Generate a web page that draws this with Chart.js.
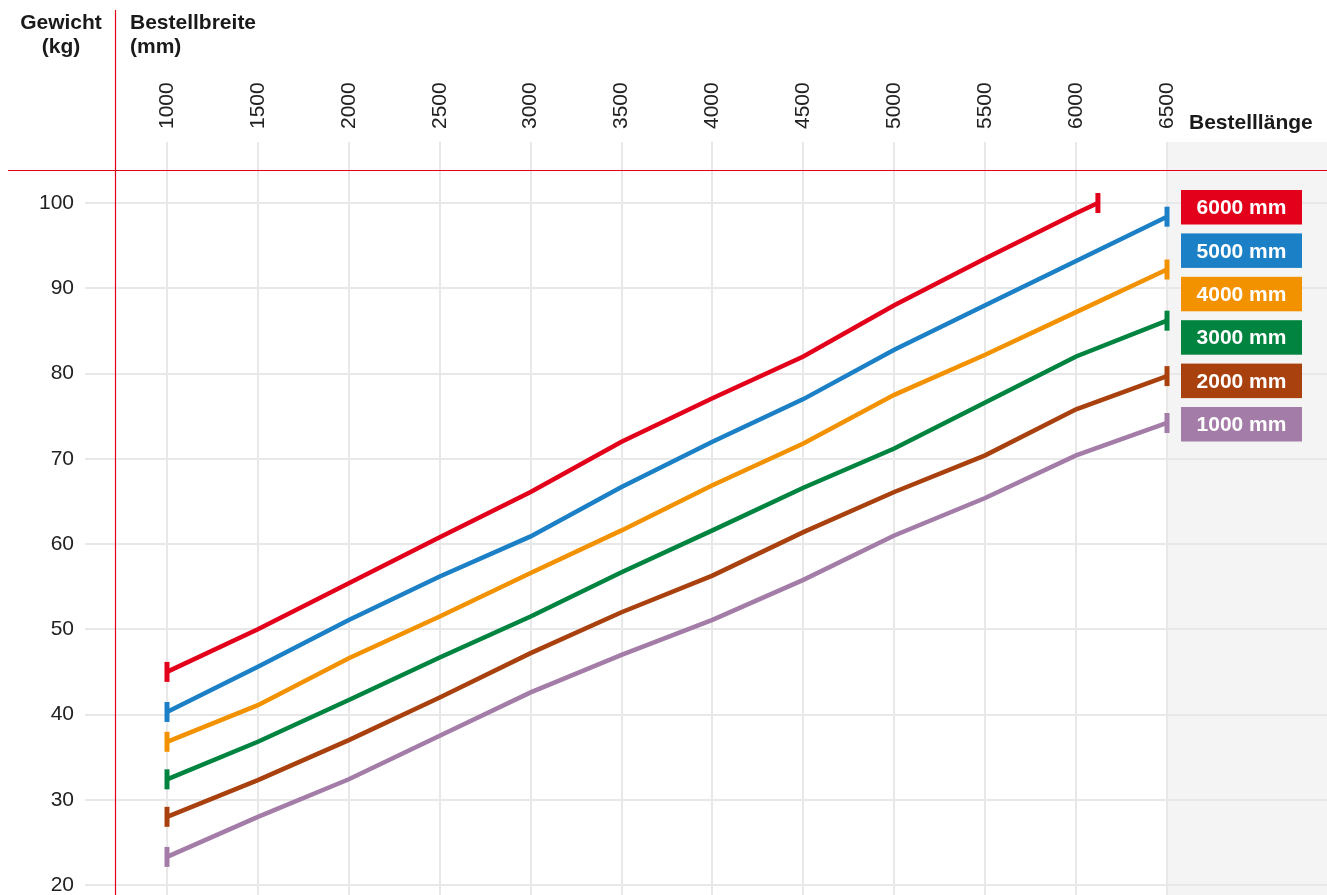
<!DOCTYPE html>
<html>
<head>
<meta charset="utf-8">
<script src="https://cdn.jsdelivr.net/npm/chart.js@4/dist/chart.umd.min.js"></script>
<style>
  html, body { margin: 0; padding: 0; background: #fff; }
  canvas { display: block; }
</style>
</head>
<body>
<canvas id="chart-gewicht" width="1327" height="895"></canvas>
<script>
/*
  ==================================================
  ====================== DATEN ======================
  ==================================================
*/

// Bestellbreite (mm)
const breiten = [1000, 1500, 2000, 2500, 3000, 3500, 4000, 4500, 5000, 5500, 6000, 6500];
// die 6000-mm-Kurve endet bei 100 kg
const breiten6000 = [1000, 1500, 2000, 2500, 3000, 3500, 4000, 4500, 5000, 5500, 6000, 6120];
const gewichtTicks = [20, 30, 40, 50, 60, 70, 80, 90, 100];

// Gewicht (kg) je Bestelllänge
const gewicht6000 = [45.0, 50.0, 55.4, 60.8, 66.1, 72.0, 77.1, 82.0, 88.0, 93.5, 98.8, 100.0];
const gewicht5000 = [40.3, 45.6, 51.1, 56.2, 60.9, 66.7, 72.0, 77.0, 82.8, 88.0, 93.2, 98.4];
const gewicht4000 = [36.8, 41.1, 46.6, 51.5, 56.6, 61.6, 66.9, 71.8, 77.5, 82.2, 87.2, 92.2];
const gewicht3000 = [32.4, 36.8, 41.7, 46.7, 51.5, 56.7, 61.6, 66.6, 71.2, 76.6, 82.0, 86.2];
const gewicht2000 = [28.0, 32.3, 37.0, 42.0, 47.2, 52.0, 56.3, 61.4, 66.1, 70.4, 75.8, 79.7];
const gewicht1000 = [23.3, 28.0, 32.4, 37.5, 42.6, 47.0, 51.1, 55.8, 61.0, 65.4, 70.4, 74.2];

const laengen = ['6000 mm', '5000 mm', '4000 mm', '3000 mm', '2000 mm', '1000 mm'];
const farben = ['#e3001b', '#1b80c5', '#f39200', '#00843f', '#a9410e', '#a37ca8'];

const FONT = "'Liberation Sans', Arial, Helvetica, sans-serif";
const ROT = '#e3001b';

/*
  ==================================================
  ===================== HELFER =====================
  ==================================================
*/

/** @param {number[]} xs @param {number[]} ys */
let punkte = (xs, ys) => ys.map((y, i) => ({ x: xs[i], y }));

/** Endstriche nur am ersten und letzten Punkt */
let endRadius = (ctx) => {
  let n = ctx.dataset.data.length;
  return (ctx.dataIndex === 0 || ctx.dataIndex === n - 1) ? 10 : 0;
};

/** Achse ohne Extra-Abstaende fuer Randbeschriftungen */
let ohnePadding = (scale) => {
  scale.paddingLeft = 0;
  scale.paddingRight = 0;
  scale.paddingTop = 0;
  scale.paddingBottom = 0;
};

let reihen = [
  punkte(breiten6000, gewicht6000),
  punkte(breiten, gewicht5000),
  punkte(breiten, gewicht4000),
  punkte(breiten, gewicht3000),
  punkte(breiten, gewicht2000),
  punkte(breiten, gewicht1000)
];

/*
  ==================================================
  ==================== PLUGINS ====================
  ==================================================
*/

let hintergrund = {
  id: 'hintergrund',
  beforeDraw(chart) {
    let { ctx, chartArea, scales } = chart;
    let x0 = scales.x.getPixelForValue(breiten[breiten.length - 1]);
    ctx.save();
    ctx.fillStyle = '#f4f4f4';
    ctx.fillRect(x0, chartArea.top, chart.width - x0, chart.height - chartArea.top);
    ctx.restore();
  }
};

let rahmen = {
  id: 'rahmen',
  beforeDatasetsDraw(chart) {
    let { ctx } = chart;
    ctx.save();
    ctx.strokeStyle = ROT;
    ctx.lineWidth = 1.2;
    ctx.beginPath();
    ctx.moveTo(8, 170.5);
    ctx.lineTo(chart.width, 170.5);
    ctx.moveTo(115.5, 10);
    ctx.lineTo(115.5, chart.height);
    ctx.stroke();
    ctx.restore();
  }
};

let beschriftung = {
  id: 'beschriftung',
  afterDraw(chart) {
    let { ctx, scales } = chart;
    ctx.save();
    ctx.fillStyle = '#1a1a1a';
    ctx.font = 'bold 21px ' + FONT;
    ctx.textBaseline = 'alphabetic';
    ctx.textAlign = 'center';
    ctx.fillText('Gewicht', 61, 29);
    ctx.fillText('(kg)', 61, 53);
    ctx.textAlign = 'left';
    ctx.fillText('Bestellbreite', 130, 29);
    ctx.fillText('(mm)', 130, 53);
    ctx.fillText('Bestelllänge', 1189, 129);

    // Legende
    let x0 = scales.x.getPixelForValue(breiten[breiten.length - 1]) + 14;
    ctx.textAlign = 'center';
    ctx.textBaseline = 'middle';
    laengen.forEach((l, i) => {
      let y = 190 + i * 43.4;
      ctx.fillStyle = farben[i];
      ctx.fillRect(x0, y, 121, 34.5);
      ctx.fillStyle = '#fff';
      ctx.fillText(l, x0 + 60.5, y + 18.5);
    });
    ctx.restore();
  }
};

/*
  ==================================================
  ===================== GRAFIK =====================
  ==================================================
*/

let canvas = document.getElementById('chart-gewicht').getContext('2d');

let chart = new Chart(canvas, {
  type: 'line',
  data: {
    datasets: reihen.map((data, i) => ({
      label: laengen[i],
      data,
      borderColor: farben[i],
      backgroundColor: farben[i],
      borderWidth: 4.5,
      tension: 0,
      pointStyle: 'line',
      pointRotation: 90,
      pointRadius: endRadius,
      pointHoverRadius: endRadius,
      pointBorderWidth: 5,
      pointBorderColor: farben[i],
      clip: false
    }))
  },
  options: {
    responsive: false,
    animation: false,
    layout: { padding: 0, autoPadding: false },
    plugins: {
      legend: { display: false },
      tooltip: { enabled: false }
    },
    scales: {
      x: {
        type: 'linear',
        position: 'top',
        min: 549,
        max: 7380,
        afterBuildTicks: (scale) => { scale.ticks = breiten.map(v => ({ value: v })); },
        afterFit: (scale) => { scale.height = 142; ohnePadding(scale); },
        border: { display: false },
        grid: { color: '#e8e8e8', lineWidth: 2, drawTicks: false },
        ticks: {
          autoSkip: false,
          minRotation: 90,
          maxRotation: 90,
          padding: 13,
          color: '#222',
          font: { family: FONT, size: 21, lineHeight: 0 },
          callback: (v) => String(v)
        }
      },
      y: {
        type: 'linear',
        min: 18.83,
        max: 107.16,
        afterBuildTicks: (scale) => { scale.ticks = gewichtTicks.map(v => ({ value: v })); },
        afterFit: (scale) => { scale.width = 85; ohnePadding(scale); },
        border: { display: false },
        grid: { color: '#e8e8e8', lineWidth: 2, drawTicks: false },
        ticks: {
          padding: 11,
          color: '#222',
          font: { family: FONT, size: 21 },
          callback: (v) => String(v)
        }
      }
    }
  },
  plugins: [hintergrund, rahmen, beschriftung]
});
</script>
</body>
</html>
